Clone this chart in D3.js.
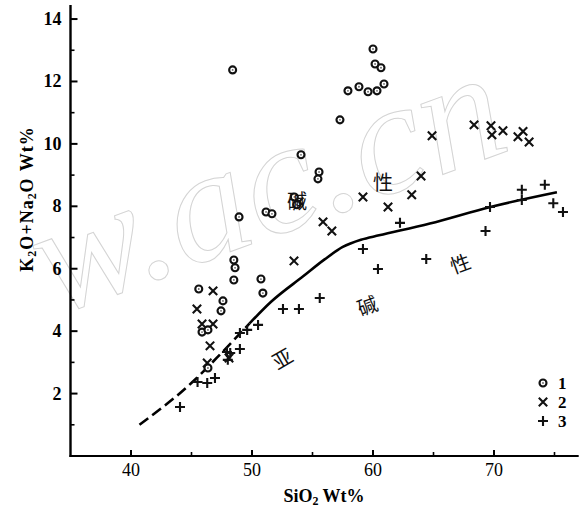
<!DOCTYPE html>
<html>
<head>
<meta charset="utf-8">
<script src="https://cdn.jsdelivr.net/npm/d3@7"></script>
<style>
  html, body { margin: 0; padding: 0; background: #fff; }
  #chart { width: 582px; height: 513px; }
</style>
</head>
<body>
<div id="chart"></div>
<script>
// ---- data (SiO2 wt%, K2O+Na2O wt%) ----
const xTicks = [40, 50, 60, 70];
const xMinorTicks = [45, 55, 65, 75];
const yTicks = [2, 4, 6, 8, 10, 12, 14];
const yMinorTicks = [1, 3, 5, 7, 9, 11, 13];

// series 1 (circles)
const series1 = [
  [48.4, 12.37], [60.0, 13.04], [60.17, 12.56], [60.66, 12.44], [57.93, 11.70],
  [58.84, 11.83], [59.59, 11.67], [60.33, 11.70], [60.91, 11.92], [57.27, 10.77],
  [54.05, 9.65], [55.54, 9.10], [55.45, 8.88], [48.93, 7.66], [51.16, 7.82],
  [51.65, 7.76], [53.5, 8.3], [53.7, 8.05], [48.5, 6.28], [48.6, 6.03],
  [48.5, 5.64], [50.74, 5.67], [50.9, 5.22], [45.6, 5.35], [47.6, 4.97],
  [47.44, 4.65], [45.87, 3.97], [46.36, 4.04], [46.36, 2.82]
];

// series 2 (crosses)
const series2 = [
  [46.78, 5.29], [45.45, 4.71], [45.87, 4.23], [46.78, 4.23], [46.53, 3.53],
  [48.1, 3.14], [46.3, 2.98], [53.9, 8.15], [55.87, 7.5], [56.6, 7.21],
  [53.47, 6.25], [59.17, 8.3], [63.2, 8.37], [61.24, 7.98], [63.97, 8.97],
  [64.88, 10.26], [68.35, 10.61], [69.75, 10.58], [69.83, 10.29], [70.74, 10.42],
  [72.4, 10.4], [71.98, 10.23], [72.9, 10.06]
];

// series 3 (plus signs)
const series3 = [
  [44.05, 1.57], [45.5, 2.37], [46.3, 2.34], [46.94, 2.5], [48.0, 3.08],
  [47.93, 3.33], [48.2, 3.3], [49.0, 3.43], [49.0, 3.94], [49.6, 4.04],
  [50.5, 4.2], [52.56, 4.71], [53.88, 4.71], [55.6, 5.06], [59.17, 6.63],
  [60.41, 5.99], [62.23, 7.47], [64.4, 6.31], [69.3, 7.21], [69.67, 7.98],
  [72.3, 8.2], [72.3, 8.53], [74.2, 8.69], [74.9, 8.1], [75.7, 7.82]
];

// alkaline / subalkaline dividing line (dashed part, then solid part)
const dividerDashed = [[40.7, 1.0], [45.3, 2.45], [47.1, 3.15], [49.8, 4.25]];
const dividerSolid = [
  [49.8, 4.25], [51.6, 4.95], [54.2, 5.75], [56.0, 6.3], [57.5, 6.7],
  [59.0, 6.93], [60.5, 7.07], [64.7, 7.45], [69.7, 7.98], [75.2, 8.45]
];

// field labels: [x, y, text, rotation]
const fieldLabels = [
  [52.48, 3.14, '亚', -30], [59.5, 4.84, '碱', -20], [67.19, 6.19, '性', -20],
  [53.72, 8.2, '碱', 0], [60.83, 8.78, '性', 0]
];
const legendLabels = ['1', '2', '3'];

// ---- layout ----
const width = 582, height = 513;
const svg = d3.select('#chart').append('svg')
  .attr('width', width)
  .attr('height', height);

const x = d3.scaleLinear().domain([35, 77]).range([70.5, 578.7]);
const y = d3.scaleLinear().domain([0, 14.45]).range([456, 5]);

const serif = '"Liberation Serif", "DejaVu Serif", serif';

// faint watermark
svg.append('text')
  .attr('transform', 'translate(54,316) rotate(-20)')
  .attr('font-family', serif)
  .attr('font-style', 'italic')
  .attr('font-size', 160)
  .attr('textLength', 490)
  .attr('lengthAdjust', 'spacingAndGlyphs')
  .attr('fill', 'none')
  .attr('stroke', '#d4d4d4')
  .attr('stroke-width', 1)
  .text('w.ac.cn');

// ---- axes ----
const axisG = svg.append('g').attr('stroke', '#000');
axisG.append('line')
  .attr('x1', x(35)).attr('x2', x(35))
  .attr('y1', y(14.45)).attr('y2', y(0) + 1)
  .attr('stroke-width', 2.4);
axisG.append('line')
  .attr('x1', x(35) - 1).attr('x2', x(77))
  .attr('y1', y(0)).attr('y2', y(0))
  .attr('stroke-width', 2.2);

axisG.selectAll('.ytick').data(yTicks).join('line')
  .attr('x1', x(35)).attr('x2', x(35) + 7)
  .attr('y1', d => y(d)).attr('y2', d => y(d))
  .attr('stroke-width', 2);
axisG.selectAll('.yminor').data(yMinorTicks).join('line')
  .attr('x1', x(35)).attr('x2', x(35) + 4)
  .attr('y1', d => y(d)).attr('y2', d => y(d))
  .attr('stroke-width', 1.6);
axisG.selectAll('.xtick').data(xTicks).join('line')
  .attr('x1', d => x(d)).attr('x2', d => x(d))
  .attr('y1', y(0)).attr('y2', y(0) - 6)
  .attr('stroke-width', 2);
axisG.selectAll('.xminor').data(xMinorTicks).join('line')
  .attr('x1', d => x(d)).attr('x2', d => x(d))
  .attr('y1', y(0)).attr('y2', y(0) - 4)
  .attr('stroke-width', 1.6);

svg.append('g').selectAll('text').data(yTicks).join('text')
  .attr('x', x(35) - 9)
  .attr('y', d => y(d) + 6)
  .attr('text-anchor', 'end')
  .attr('font-family', serif)
  .attr('font-weight', 'bold')
  .attr('font-size', 18)
  .text(d => d);

svg.append('g').selectAll('text').data(xTicks).join('text')
  .attr('x', d => x(d))
  .attr('y', y(0) + 20)
  .attr('text-anchor', 'middle')
  .attr('font-family', serif)
  .attr('font-size', 18)
  .text(d => d);

// axis titles
const xTitle = svg.append('text')
  .attr('x', 324).attr('y', 502)
  .attr('text-anchor', 'middle')
  .attr('font-family', serif)
  .attr('font-weight', 'bold')
  .attr('font-size', 18);
xTitle.append('tspan').text('SiO');
xTitle.append('tspan').attr('font-size', 12).attr('dy', 3).text('2');
xTitle.append('tspan').attr('dy', -3).attr('dx', 4).text('Wt%');

const yTitle = svg.append('text')
  .attr('transform', 'translate(33,199) rotate(-90)')
  .attr('text-anchor', 'middle')
  .attr('font-family', serif)
  .attr('font-weight', 'bold')
  .attr('font-size', 18)
  .attr('letter-spacing', 1);
yTitle.append('tspan').text('K');
yTitle.append('tspan').attr('font-size', 12).attr('dy', 3).text('2');
yTitle.append('tspan').attr('dy', -3).text('O+Na');
yTitle.append('tspan').attr('font-size', 12).attr('dy', 3).text('2');
yTitle.append('tspan').attr('dy', -3).text('O');
yTitle.append('tspan').attr('dx', 6).text('Wt%');

// ---- dividing line ----
const line = d3.line().x(d => x(d[0])).y(d => y(d[1])).curve(d3.curveMonotoneX);
svg.append('path')
  .datum(dividerDashed)
  .attr('d', line)
  .attr('fill', 'none')
  .attr('stroke', '#000')
  .attr('stroke-width', 2.6)
  .attr('stroke-dasharray', '11,5');
svg.append('path')
  .datum(dividerSolid)
  .attr('d', line)
  .attr('fill', 'none')
  .attr('stroke', '#000')
  .attr('stroke-width', 2.6);

// ---- markers ----
function drawCircle(g, px, py) {
  g.append('circle').attr('cx', px).attr('cy', py).attr('r', 3.5)
    .attr('fill', '#fff').attr('stroke', '#111').attr('stroke-width', 2.1);
  g.append('circle').attr('cx', px).attr('cy', py).attr('r', 0.9).attr('fill', '#666');
}
function drawCross(g, px, py) {
  const s = 4.2;
  g.append('path')
    .attr('d', `M${px - s},${py - s}L${px + s},${py + s}M${px - s},${py + s}L${px + s},${py - s}`)
    .attr('stroke', '#111').attr('stroke-width', 2.1).attr('fill', 'none');
}
function drawPlus(g, px, py) {
  const s = 5;
  g.append('path')
    .attr('d', `M${px - s},${py}L${px + s},${py}M${px},${py - s}L${px},${py + s}`)
    .attr('stroke', '#111').attr('stroke-width', 2.1).attr('fill', 'none');
}

const marks = svg.append('g');
series3.forEach(d => drawPlus(marks, x(d[0]), y(d[1])));
series2.forEach(d => drawCross(marks, x(d[0]), y(d[1])));
series1.forEach(d => drawCircle(marks, x(d[0]), y(d[1])));

// ---- field labels ----
svg.append('g').selectAll('text').data(fieldLabels).join('text')
  .attr('transform', d => `translate(${x(d[0])},${y(d[1])}) rotate(${d[3]})`)
  .attr('text-anchor', 'middle')
  .attr('dominant-baseline', 'central')
  .attr('font-family', '"Noto Sans CJK SC", sans-serif')
  .attr('font-size', 20)
  .attr('fill', '#111')
  .text(d => d[2]);

// ---- legend ----
const legend = svg.append('g');
const lx = 543, ly0 = 383, lstep = 19;
drawCircle(legend, lx, ly0);
drawCross(legend, lx, ly0 + lstep);
drawPlus(legend, lx, ly0 + 2 * lstep);
legend.selectAll('text').data(legendLabels).join('text')
  .attr('x', 558)
  .attr('y', (d, i) => ly0 + i * lstep + 6)
  .attr('font-family', serif)
  .attr('font-weight', 'bold')
  .attr('font-size', 17)
  .text(d => d);
</script>
</body>
</html>
